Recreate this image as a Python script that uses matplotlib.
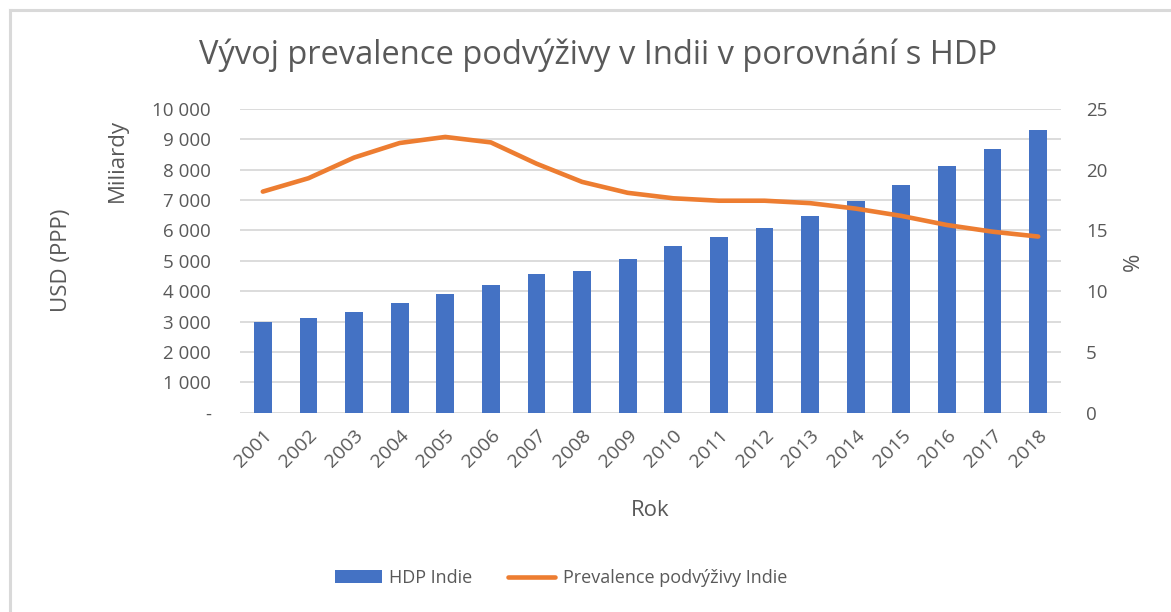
import matplotlib.pyplot as plt
from matplotlib.lines import Line2D
from matplotlib.ticker import FuncFormatter

# data
years = ["2001", "2002", "2003", "2004", "2005", "2006", "2007", "2008", "2009",
         "2010", "2011", "2012", "2013", "2014", "2015", "2016", "2017", "2018"]
hdp = [2990, 3110, 3330, 3620, 3920, 4215, 4555, 4680, 5050,
       5480, 5775, 6070, 6490, 6960, 7500, 8135, 8680, 9320]
prevalence = [18.2, 19.3, 21.0, 22.2, 22.7, 22.25, 20.5, 19.0, 18.1,
              17.65, 17.45, 17.45, 17.25, 16.8, 16.2, 15.45, 14.9, 14.5]
left_ticks = [0, 1000, 2000, 3000, 4000, 5000, 6000, 7000, 8000, 9000, 10000]
right_ticks = [0, 5, 10, 15, 20, 25]

plt.rcParams['font.family'] = ['Open Sans', 'DejaVu Sans']
text_col = '#595959'
grid_col = '#d9d9d9'

fig = plt.figure(figsize=(11.71, 6.12), dpi=100)
ax = fig.add_axes([240 / 1171, 1 - 412.7 / 612, 821 / 1171, 303.7 / 612])
ax2 = ax.twinx()

x = list(range(len(years)))
ax.bar(x, hdp, width=0.39, color='#4472C4', zorder=2, label='HDP Indie')
ax2.plot(x, prevalence, color='#ED7D31', linewidth=3.3, solid_joinstyle='round',
         solid_capstyle='round', label='Prevalence podvýživy Indie')

ax.set_xlim(-0.5, len(years) - 0.5)
ax.set_ylim(0, 10000)
ax2.set_ylim(0, 25)
ax.set_yticks(left_ticks)
ax2.set_yticks(right_ticks)
ax.yaxis.set_major_formatter(FuncFormatter(
    lambda v, p: '-' if v == 0 else f"{int(v):,}".replace(",", " ")))
ax.grid(axis='y', color=grid_col, linewidth=1.3, zorder=0)
ax.set_axisbelow(True)

for a in (ax, ax2):
    for s in a.spines.values():
        s.set_visible(False)
    a.tick_params(length=0, colors=text_col, labelsize=13.5)
ax.tick_params(axis='y', pad=21)
ax2.tick_params(axis='y', pad=18)

ax.set_xticks(x)
ax.set_xticklabels(years, rotation=45, ha='right', rotation_mode='anchor', fontsize=14)
ax.tick_params(axis='x', pad=10)

fig.text(598 / 1171, 1 - 55 / 612, "Vývoj prevalence podvýživy v Indii v porovnání s HDP",
         ha='center', va='center', fontsize=23.5, color=text_col)
fig.text(117 / 1171, 1 - 161 / 612, "Miliardy", rotation=90, ha='center', va='center',
         fontsize=16, color=text_col)
fig.text(62 / 1171, 1 - 260 / 612, "USD (PPP)", rotation=90, ha='center', va='center',
         fontsize=16, color=text_col)
fig.text(1133 / 1171, 1 - 262 / 612, "%", rotation=90, ha='center', va='center',
         fontsize=16, color=text_col)
fig.text(650 / 1171, 1 - 510 / 612, "Rok", ha='center', va='center',
         fontsize=16, color=text_col)

h1, l1 = ax.get_legend_handles_labels()
h2, l2 = ax2.get_legend_handles_labels()
leg = fig.legend(h1 + h2, l1 + l2, loc='center', bbox_to_anchor=(561 / 1171, 1 - 578 / 612),
                 ncol=2, frameon=False, fontsize=13, handlelength=2.6,
                 columnspacing=2.0, handletextpad=0.4)
for t in leg.get_texts():
    t.set_color(text_col)

# chart frame
fig.add_artist(Line2D([9.5 / 1171, 9.5 / 1171], [0, 1 - 9.5 / 612], color=grid_col, linewidth=2.2))
fig.add_artist(Line2D([9.5 / 1171, 1], [1 - 9.5 / 612, 1 - 9.5 / 612], color=grid_col, linewidth=2.2))

fig.savefig("out.png", dpi=100)
